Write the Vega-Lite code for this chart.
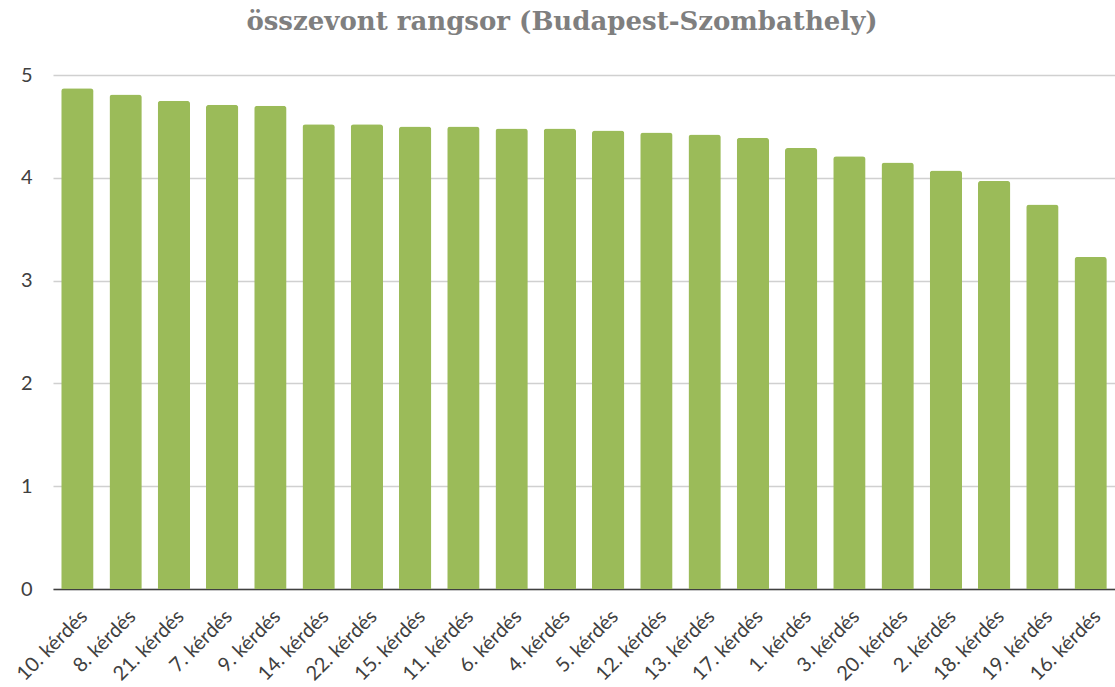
{
  "$schema": "https://vega.github.io/schema/vega-lite/v6.json",
  "autosize": "none",
  "width": 1062,
  "height": 514,
  "padding": {"left": 53, "top": 75, "right": 0, "bottom": 98},
  "background": "white",
  "title": {
    "text": "összevont rangsor (Budapest-Szombathely)",
    "font": "DejaVu Serif",
    "fontSize": 26,
    "fontWeight": "bold",
    "color": "#7f7f7f",
    "anchor": "middle",
    "offset": 30,
    "dx": -22
  },
  "data": {
    "values": [
      {"q": "10. kérdés", "v": 4.87},
      {"q": "8. kérdés", "v": 4.81},
      {"q": "21. kérdés", "v": 4.75},
      {"q": "7. kérdés", "v": 4.71},
      {"q": "9. kérdés", "v": 4.70},
      {"q": "14. kérdés", "v": 4.52},
      {"q": "22. kérdés", "v": 4.52},
      {"q": "15. kérdés", "v": 4.50},
      {"q": "11. kérdés", "v": 4.50},
      {"q": "6. kérdés", "v": 4.48},
      {"q": "4. kérdés", "v": 4.48},
      {"q": "5. kérdés", "v": 4.46},
      {"q": "12. kérdés", "v": 4.44},
      {"q": "13. kérdés", "v": 4.42},
      {"q": "17. kérdés", "v": 4.39},
      {"q": "1. kérdés", "v": 4.29},
      {"q": "3. kérdés", "v": 4.21},
      {"q": "20. kérdés", "v": 4.15},
      {"q": "2. kérdés", "v": 4.07},
      {"q": "18. kérdés", "v": 3.97},
      {"q": "19. kérdés", "v": 3.74},
      {"q": "16. kérdés", "v": 3.23}
    ]
  },
  "mark": {"type": "bar", "color": "#9bbb59", "cornerRadiusTopLeft": 3, "cornerRadiusTopRight": 3},
  "encoding": {
    "x": {
      "field": "q",
      "type": "nominal",
      "sort": null,
      "scale": {"paddingInner": 0.33, "paddingOuter": 0.17},
      "axis": {
        "title": null,
        "labelAngle": -45,
        "labelAlign": "right",
        "labelBaseline": "top",
        "labelFont": "Lato",
        "labelFontSize": 20,
        "labelColor": "#404040",
        "labelPadding": 17,
        "labelOverlap": false,
        "ticks": false,
        "domainColor": "#404040",
        "domainWidth": 1.5
      }
    },
    "y": {
      "field": "v",
      "type": "quantitative",
      "scale": {"domain": [0, 5]},
      "axis": {
        "title": null,
        "values": [0, 1, 2, 3, 4, 5],
        "domain": false,
        "ticks": false,
        "labelFont": "Lato",
        "labelFontSize": 20,
        "labelColor": "#404040",
        "labelPadding": 21,
        "gridColor": "#d0d0d0",
        "gridWidth": 1.5
      }
    }
  },
  "config": {"view": {"stroke": null}}
}
